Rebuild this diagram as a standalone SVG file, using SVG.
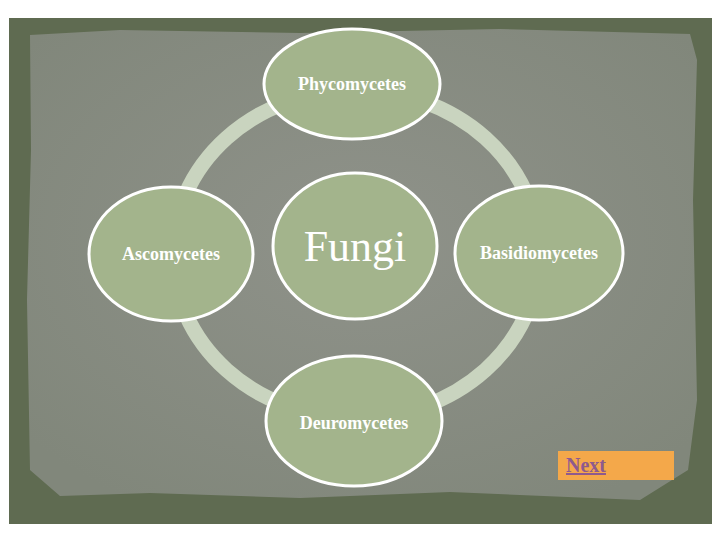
<svg xmlns="http://www.w3.org/2000/svg" width="720" height="540" viewBox="0 0 720 540">
<defs>
<style>
.node{fill:#a3b48c;stroke:#ffffff;stroke-width:3}
.lbl{font-family:"Liberation Serif",serif;font-weight:bold;font-size:18px;fill:#ffffff;text-anchor:middle}
</style>
<radialGradient id="paper" cx="50%" cy="45%" r="65%">
<stop offset="0" stop-color="#8f928a"/>
<stop offset="1" stop-color="#81877b"/>
</radialGradient>
</defs>
<rect width="720" height="540" fill="#ffffff"/>
<rect x="9" y="18" width="703" height="506" fill="#5f6b51"/>
<path d="M30 35 L120 30 L300 33 L500 29 L690 34 L697 60 L693 200 L697 400 L688 470 L640 500 L450 492 L300 498 L150 493 L60 496 L30 470 L27 300 L31 150 Z" fill="url(#paper)"/>
<g id="connectors">
<ellipse cx="356" cy="254" rx="183" ry="164" fill="none" stroke="#c9d4bf" stroke-width="15"/>
</g>
<g id="fungi">
<ellipse class="node" cx="355" cy="246" rx="82" ry="73"/>
<text x="355" y="261" font-family="'Liberation Serif',serif" font-size="44" fill="#ffffff" text-anchor="middle">Fungi</text>
</g>
<g id="phycomycetes">
<ellipse class="node" cx="352" cy="84" rx="88" ry="55"/>
<text class="lbl" x="352" y="90">Phycomycetes</text>
</g>
<g id="basidiomycetes">
<ellipse class="node" cx="539" cy="253" rx="84" ry="67"/>
<text class="lbl" x="539" y="259" font-size="15.5">Basidiomycetes</text>
</g>
<g id="ascomycetes">
<ellipse class="node" cx="171" cy="254" rx="82" ry="67"/>
<text class="lbl" x="171" y="260">Ascomycetes</text>
</g>
<g id="deuromycetes">
<ellipse class="node" cx="354" cy="421" rx="88" ry="65"/>
<text class="lbl" x="354" y="429">Deuromycetes</text>
</g>
<g id="next">
<rect x="558" y="451" width="116" height="29" fill="#f4a84a"/>
<text x="566" y="472" font-family="'Liberation Serif',serif" font-weight="bold" font-size="20" fill="#8e5a8e" text-decoration="underline">Next</text>
</g>
</svg>
